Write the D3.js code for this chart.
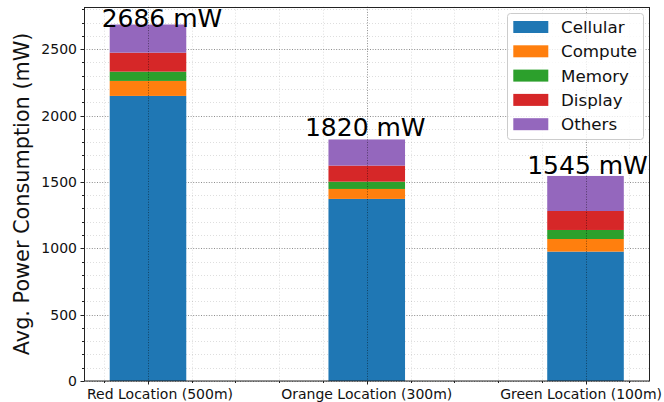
<!DOCTYPE html>
<html>
<head>
<meta charset="utf-8">
<script src="https://cdn.jsdelivr.net/npm/d3@7"></script>
<style>
  html, body { margin: 0; padding: 0; background: #fff; }
  svg { display: block; font-family: "DejaVu Sans", sans-serif; }
</style>
</head>
<body>
<svg id="chart" width="664" height="402"></svg>
<script>
// Average power consumption per location, split by subsystem (mW)
const categories = ["Red Location (500m)", "Orange Location (300m)", "Green Location (100m)"];
const components = ["Cellular", "Compute", "Memory", "Display", "Others"];
const cellular = [2148, 1372, 975];
const compute  = [113, 75, 95];
const memory   = [70, 55, 68];
const display  = [143, 121, 143];
const others   = [212, 197, 264];
const totals   = [2686, 1820, 1545];
const yTicks   = [0, 500, 1000, 1500, 2000, 2500];
const yLabel   = "Avg. Power Consumption (mW)";

const colors = ["#1f77b4", "#ff7f0e", "#2ca02c", "#d62728", "#9467bd"];

const rows = categories.map((c, i) => ({
  category: i,
  Cellular: cellular[i], Compute: compute[i], Memory: memory[i],
  Display: display[i], Others: others[i]
}));

const W = 664, H = 402;
const plot = { left: 84, right: 649.5, top: 6.7, bottom: 381 };
const svg = d3.select("#chart");

const barWidth = 0.35;
const xPad = (categories.length - 1 + barWidth) * 0.05;
const x = d3.scaleLinear()
  .domain([-barWidth / 2 - xPad, categories.length - 1 + barWidth / 2 + xPad])
  .range([plot.left, plot.right]);
const y = d3.scaleLinear()
  .domain([0, d3.max(totals) * 1.05])
  .range([plot.bottom, plot.top]);

const stack = d3.stack().keys(components)(rows);

const yMinor = d3.range(0, y.domain()[1], 100).filter(v => v % 500 !== 0);
const xMinor = d3.range(-1, 12).map(v => v * 0.2).filter(v => v >= x.domain()[0] && v <= x.domain()[1] && Math.abs(v - Math.round(v)) > 1e-6);
const xMajor = categories.map((c, i) => i);

const gridBelow = svg.append("g");
const barG = svg.append("g");
const gridAbove = svg.append("g");

function hLine(g, v, cls) {
  const yy = Math.round(y(v)) + 0.5;
  g.append("line").attr("class", cls)
    .attr("x1", plot.left).attr("x2", plot.right).attr("y1", yy).attr("y2", yy);
}
function vLine(g, v, cls) {
  const xx = Math.round(x(v)) + 0.5;
  g.append("line").attr("class", cls)
    .attr("y1", plot.top).attr("y2", plot.bottom).attr("x1", xx).attr("x2", xx);
}
// Horizontal grid and minor verticals sit behind the bars; the major
// verticals run over them.
yMinor.forEach(v => hLine(gridBelow, v, "minor"));
xMinor.forEach(v => vLine(gridBelow, v, "minor"));
yTicks.forEach(v => hLine(gridBelow, v, "major"));
xMajor.forEach(v => vLine(gridAbove, v, "major"));
svg.selectAll("line.minor").attr("stroke", "rgba(0,0,0,0.13)").attr("stroke-width", 1).attr("stroke-dasharray", "1,2");
svg.selectAll("line.major").attr("stroke", "rgba(0,0,0,0.45)").attr("stroke-width", 1).attr("stroke-dasharray", "1,1.6");

// Bars
stack.forEach((layer, k) => {
  barG.selectAll(null).data(layer).enter().append("rect")
    .attr("x", d => x(d.data.category - barWidth / 2))
    .attr("width", d => x(barWidth) - x(0))
    .attr("y", d => y(d[1]))
    .attr("height", d => y(d[0]) - y(d[1]))
    .attr("fill", colors[k]);
});

// Frame
svg.append("rect")
  .attr("x", plot.left + 0.5).attr("y", Math.round(plot.top) + 0.5)
  .attr("width", Math.round(plot.right) - plot.left - 1)
  .attr("height", plot.bottom - Math.round(plot.top) - 0.5)
  .attr("fill", "none").attr("stroke", "#222").attr("stroke-width", 1);

// Ticks
const tickG = svg.append("g").attr("stroke", "#222").attr("stroke-width", 1);
yTicks.forEach(v => {
  const yy = Math.round(y(v)) + 0.5;
  tickG.append("line").attr("x1", plot.left - 3.5).attr("x2", plot.left).attr("y1", yy).attr("y2", yy);
});
yMinor.forEach(v => {
  const yy = Math.round(y(v)) + 0.5;
  tickG.append("line").attr("x1", plot.left - 2).attr("x2", plot.left).attr("y1", yy).attr("y2", yy);
});
xMajor.forEach(v => {
  const xx = Math.round(x(v)) + 0.5;
  tickG.append("line").attr("x1", xx).attr("x2", xx).attr("y1", plot.bottom).attr("y2", plot.bottom + 3.5);
});
xMinor.forEach(v => {
  const xx = Math.round(x(v)) + 0.5;
  tickG.append("line").attr("x1", xx).attr("x2", xx).attr("y1", plot.bottom).attr("y2", plot.bottom + 2);
});

// Y tick labels
svg.append("g").selectAll("text").data(yTicks).enter().append("text")
  .attr("x", plot.left - 7).attr("y", d => y(d)).attr("dy", "0.36em")
  .attr("text-anchor", "end").attr("font-size", 14).attr("fill", "#111")
  .text(d => d);

// X tick labels, kept inside the canvas horizontally
const xLab = svg.append("g").selectAll("text").data(categories).enter().append("text")
  .attr("y", 399).attr("font-size", 14).attr("fill", "#111")
  .attr("text-anchor", "middle")
  .attr("x", (d, i) => x(i))
  .text(d => d);
xLab.each(function () {
  const b = this.getBBox();
  let shift = 0;
  if (b.x < plot.left + 3) shift = plot.left + 3 - b.x;
  if (b.x + b.width > W - 2) shift = (W - 2) - (b.x + b.width);
  d3.select(this).attr("x", +d3.select(this).attr("x") + shift);
});

// Y axis title
svg.append("text")
  .attr("transform", `translate(29,${(plot.top + plot.bottom) / 2}) rotate(-90)`)
  .attr("text-anchor", "middle").attr("font-size", 20.8).attr("fill", "#111")
  .text(yLabel);

// Total labels above each stack
const labelNudge = [{ dx: 14, dy: 2 }, { dx: -1.5, dy: -3 }, { dx: 2, dy: -2 }];
svg.append("g").selectAll("text").data(totals).enter().append("text")
  .attr("x", (d, i) => x(i) + labelNudge[i].dx)
  .attr("y", (d, i) => y(d) + labelNudge[i].dy)
  .attr("text-anchor", "middle").attr("font-size", 25).attr("fill", "#000")
  .text(d => `${d} mW`);

// Legend
const lg = svg.append("g");
lg.append("rect")
  .attr("x", 507.5).attr("y", 13.5).attr("width", 136).attr("height", 126)
  .attr("rx", 3).attr("ry", 3)
  .attr("fill", "rgba(255,255,255,0.8)").attr("stroke", "#cccccc").attr("stroke-width", 1);
components.forEach((name, k) => {
  const cy = 27 + k * 24.3;
  lg.append("rect").attr("x", 513.3).attr("y", cy - 6).attr("width", 35).attr("height", 12).attr("fill", colors[k]);
  lg.append("text").attr("x", 561).attr("y", cy + 6).attr("font-size", 16.7).attr("fill", "#111").text(name);
});
</script>
</body>
</html>
